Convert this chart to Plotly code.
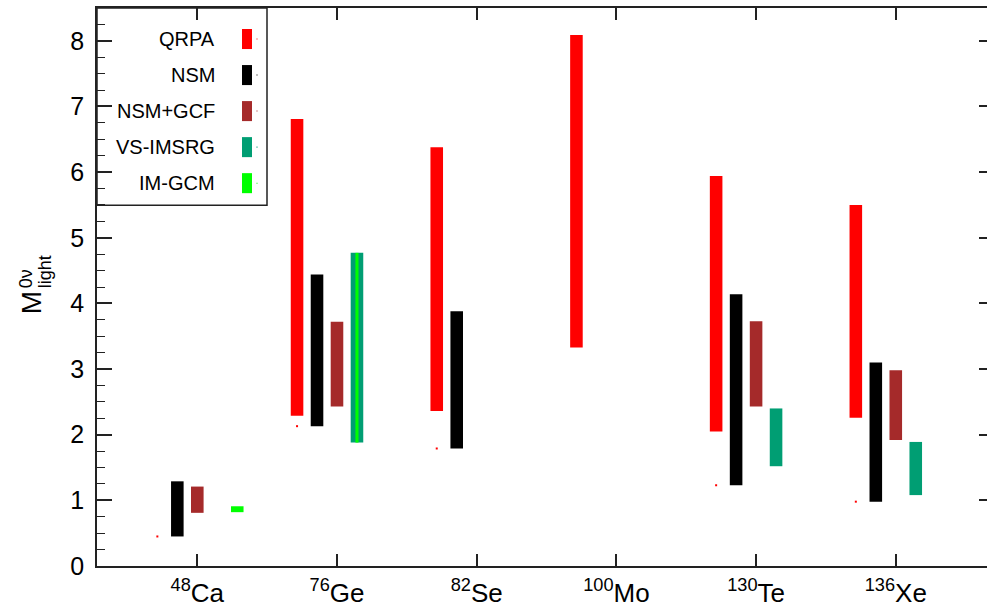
import plotly.graph_objects as go

# Nuclei and nuclear matrix element ranges (low, high) for each method
nuclei = ["<sup>48</sup>Ca", "<sup>76</sup>Ge", "<sup>82</sup>Se",
          "<sup>100</sup>Mo", "<sup>130</sup>Te", "<sup>136</sup>Xe"]

qrpa_lo = [None, 2.29, 2.36, 3.33, 2.05, 2.26]
qrpa_hi = [None, 6.81, 6.38, 8.09, 5.94, 5.50]

nsm_lo = [0.45, 2.13, 1.79, None, 1.23, 0.98]
nsm_hi = [1.29, 4.44, 3.88, None, 4.14, 3.10]

gcf_lo = [0.81, 2.43, None, None, 2.43, 1.92]
gcf_hi = [1.21, 3.72, None, None, 3.73, 2.98]

imsrg_lo = [None, 1.88, None, None, 1.52, 1.08]
imsrg_hi = [None, 4.77, None, None, 2.40, 1.89]

imgcm_lo = [0.82, 1.88, None, None, None, None]
imgcm_hi = [0.91, 4.77, None, None, None, None]

methods = ["QRPA", "NSM", "NSM+GCF", "VS-IMSRG", "IM-GCM"]
colors = ["#ff0000", "#000000", "#a52a2a", "#009e73", "#00ff00"]

# horizontal slot of each method around the nucleus tick
SLOT = 0.143
BAR_W = 0.09
slots = {"QRPA": -2, "NSM": -1, "NSM+GCF": 0, "VS-IMSRG": 1, "IM-GCM": 2}

fig = go.Figure()


def add_range_bars(name, lo, hi, color, slot_list=None, width_list=None):
    xs, bases, heights, widths = [], [], [], []
    for i, (a, b) in enumerate(zip(lo, hi)):
        if a is None or b is None:
            continue
        s = slot_list[i] if slot_list else slots[name]
        xs.append(i + 1 + s * SLOT)
        bases.append(a)
        heights.append(b - a)
        widths.append(width_list[i] if width_list else BAR_W)
    fig.add_trace(go.Bar(
        x=xs, y=heights, base=bases, width=widths, name=name,
        marker=dict(color=color, line=dict(width=0)),
        showlegend=False, hoverinfo="skip",
    ))


add_range_bars("QRPA", qrpa_lo, qrpa_hi, colors[0])
add_range_bars("NSM", nsm_lo, nsm_hi, colors[1])
add_range_bars("NSM+GCF", gcf_lo, gcf_hi, colors[2])
add_range_bars("VS-IMSRG", imsrg_lo, imsrg_hi, colors[3])
# IM-GCM: separate box for Ca, thin stripe inside the VS-IMSRG box for Ge
add_range_bars("IM-GCM", imgcm_lo, imgcm_hi, colors[4],
               slot_list=[2, 1, 2, 2, 2, 2],
               width_list=[BAR_W, 0.022, BAR_W, BAR_W, BAR_W, BAR_W])

# small whisker points left at the QRPA slot
dot_x = [i + 1 + slots["QRPA"] * SLOT for i, v in enumerate(nsm_lo) if v is not None]
dot_y = [v for v in nsm_lo if v is not None]
fig.add_trace(go.Scatter(
    x=dot_x, y=dot_y, mode="markers",
    marker=dict(color="#ff0000", size=2, symbol="square"),
    showlegend=False, hoverinfo="skip",
))

FONT = "Liberation Sans, Arial, Helvetica, sans-serif"
LINE = "#222222"
XR = [0.282, 6.653]
YR = [0, 8.5]

fig.update_layout(
    width=987, height=605,
    margin=dict(l=97, r=0, t=8, b=39, autoexpand=False),
    paper_bgcolor="white", plot_bgcolor="white",
    barmode="overlay",
    font=dict(family=FONT, size=24, color="black"),
    xaxis=dict(
        range=XR, tickmode="array", tickvals=[1, 2, 3, 4, 5, 6], ticktext=nuclei,
        ticks="inside", ticklen=12, tickwidth=1.5, tickcolor=LINE,
        showline=True, linecolor=LINE, linewidth=1.8, showgrid=False,
        zeroline=False, tickfont=dict(size=26), ticklabelstandoff=3,
        automargin=False,
    ),
    xaxis2=dict(
        range=XR, overlaying="x", side="top", tickmode="array",
        tickvals=[1, 2, 3, 4, 5, 6], showticklabels=False,
        ticks="inside", ticklen=12, tickwidth=1.5, tickcolor=LINE,
        showline=True, linecolor=LINE, linewidth=1.8, showgrid=False,
        zeroline=False, automargin=False,
    ),
    yaxis=dict(
        range=YR, tickmode="array", tickvals=list(range(0, 9)),
        ticks="inside", ticklen=15, tickwidth=1.5, tickcolor=LINE,
        minor=dict(dtick=0.25, ticks="inside", ticklen=8, tickwidth=1.2, tickcolor=LINE),
        showline=True, linecolor=LINE, linewidth=1.8, showgrid=False,
        zeroline=False, tickfont=dict(size=25), ticklabelstandoff=6,
        automargin=False,
    ),
    yaxis2=dict(
        range=YR, overlaying="y", side="right", tickmode="array",
        tickvals=list(range(0, 9)), showticklabels=False,
        ticks="inside", ticklen=8, tickwidth=1.5, tickcolor=LINE,
        showline=False, showgrid=False, zeroline=False, automargin=False,
    ),
)

# invisible traces to activate the mirrored axes
fig.add_trace(go.Scatter(x=[None], y=[None], xaxis="x2", yaxis="y2",
                         showlegend=False, hoverinfo="skip"))

# pixel helpers for paper coordinates
PW, PH = 890.0, 557.5


def px(xp):
    return (xp - 97) / PW


def py(yp):
    return (565.5 - yp) / PH


# y-axis title: M with stacked 0ν / light
for txt, cx, cy, sz in [("M", 31, 303, 28), ("0ν", 26, 279, 18), ("light", 45, 272, 18)]:
    fig.add_annotation(text=txt, x=px(cx), y=py(cy), xref="paper", yref="paper",
                       xanchor="center", yanchor="middle", textangle=-90,
                       showarrow=False, font=dict(size=sz))

# legend box
fig.add_shape(type="rect", xref="paper", yref="paper",
              x0=0, x1=px(267), y0=py(205), y1=1,
              line=dict(color=LINE, width=1.5), fillcolor="white", layer="below")
row_y = [39, 75, 111, 147, 183]
for name, col, ry in zip(methods, colors, row_y):
    fig.add_annotation(text=name, x=px(217), y=py(ry), xref="paper", yref="paper",
                       xanchor="right", yanchor="middle", showarrow=False,
                       font=dict(size=20))
    fig.add_shape(type="rect", xref="paper", yref="paper",
                  x0=px(242), x1=px(252), y0=py(ry + 10), y1=py(ry - 10),
                  line=dict(width=0), fillcolor=col)
    fig.add_shape(type="rect", xref="paper", yref="paper",
                  x0=px(256.5), x1=px(257.5), y0=py(ry + 0.5), y1=py(ry - 0.5),
                  line=dict(width=0), fillcolor=col)

fig.write_html("out.html")
